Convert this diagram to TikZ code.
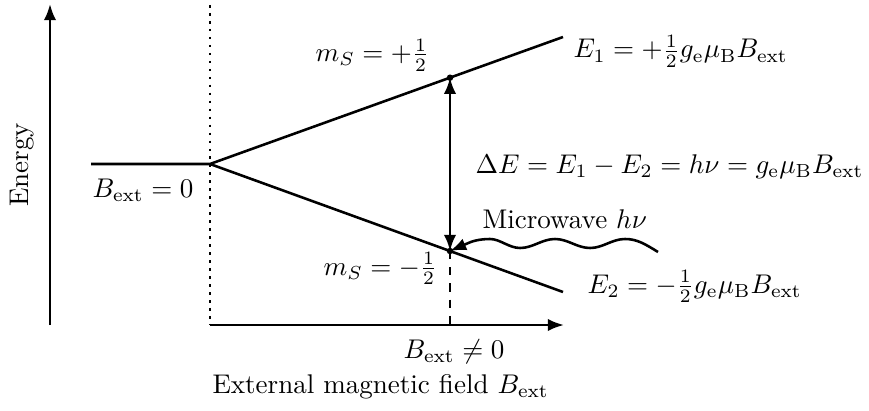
\documentclass[tikz,border=0pt]{standalone}
\usetikzlibrary{arrows.meta}
\begin{document}
\begin{tikzpicture}[x=0.37pt,y=-0.37pt,
  line/.style={line width=0.95pt},
  tip/.tip={Latex[length=6pt,width=4.6pt]},
  axis/.style={line,-tip},
  lbl/.style={inner sep=0pt,anchor=base west},
  ]
\useasboundingbox (0,0) rectangle (869,410);
% coordinates
\coordinate (eb) at (50,325);
\coordinate (et) at (50,4);
\coordinate (dtop) at (210,5);
\coordinate (dbot) at (210,325);
\coordinate (l0) at (91,164);
\coordinate (O) at (210,164);
\coordinate (up) at (563,37);
\coordinate (lo) at (563,292);
\coordinate (xe) at (564,325);
\coordinate (pu) at (450,77.7);
\coordinate (pl) at (450,251);
\coordinate (foot) at (450,325);
\coordinate (ws) at (658,252);
% axes
\draw[axis] (eb) -- (et);
\draw[axis] (dbot) -- (xe);
\draw[line,dotted] (dtop) -- (dbot);
% levels
\draw[line] (l0) -- (O) -- (up);
\draw[line] (O) -- (lo);
\draw[line,dashed] (pl) -- (foot);
% transition
\fill (pu) circle[radius=1.2pt];
\fill (pl) circle[radius=1.2pt];
\draw[line,tip-tip] (pu) -- (pl);
\draw[line,-tip] (ws) .. controls (645,244) and (637,239) .. (625,239)
  .. controls (612,239) and (603,248) .. (590,248)
  .. controls (577,248) and (568,239) .. (555,239)
  .. controls (542,239) and (533,248) .. (520,248)
  .. controls (509,248) and (500,239) .. (490,239)
  .. controls (480,239) and (472,241) .. (466,244) -- (pl);
% labels
\node[lbl] (msu) at (315,61.7) {$m_S = +\frac{1}{2}$};
\node[lbl] (e1) at (573,58) {$E_1 = +\frac{1}{2} g_{\mathrm{e}}\mu_{\mathrm{B}} B_{\mathrm{ext}}$};
\node[lbl] (de) at (475,173) {$\Delta E = E_1 - E_2 = h\nu = g_{\mathrm{e}}\mu_{\mathrm{B}}B_{\mathrm{ext}}$};
\node[lbl] (mw) at (482,228) {Microwave $h\nu$};
\node[lbl] (msl) at (323,275) {$m_S = -\frac{1}{2}$};
\node[lbl] (e2) at (587,293) {$E_2 = -\frac{1}{2} g_{\mathrm{e}}\mu_{\mathrm{B}}B_{\mathrm{ext}}$};
\node[lbl] (b0) at (92,197) {$B_{\mathrm{ext}} = 0$};
\node[lbl] (bn) at (403,358) {$B_{\mathrm{ext}} \neq 0$};
\node[lbl] (xl) at (212,393) {External magnetic field $B_{\mathrm{ext}}$};
\node[rotate=90] (en) at (22,165) {Energy};
\end{tikzpicture}
\end{document}
